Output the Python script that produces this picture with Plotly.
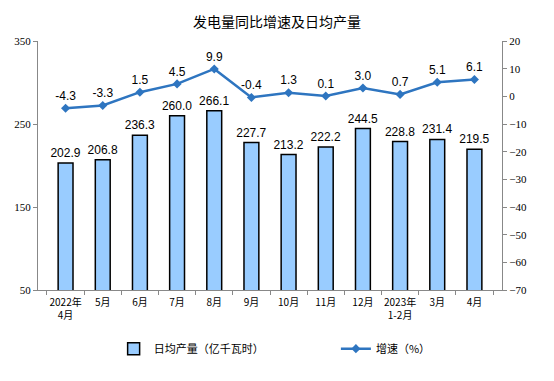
import plotly.graph_objects as go

categories = ["2022年<br>4月", "5月", "6月", "7月", "8月", "9月", "10月", "11月", "12月", "2023年<br>1-2月", "3月", "4月"]
daily_output = [202.9, 206.8, 236.3, 260.0, 266.1, 227.7, 213.2, 222.2, 244.5, 228.8, 231.4, 219.5]
growth = [-4.3, -3.3, 1.5, 4.5, 9.9, -0.4, 1.3, 0.1, 3.0, 0.7, 5.1, 6.1]
left_ticks = [50, 150, 250, 350]

fig = go.Figure()
fig.add_trace(go.Bar(
    x=categories, y=daily_output, name="日均产量（亿千瓦时）", legend="legend",
    marker=dict(color="#99CCFF", line=dict(color="#000000", width=1.5)),
    width=0.4,
    text=[f"{v:.1f}" for v in daily_output], textposition="outside",
    constraintext="none",
    textfont=dict(family="Liberation Sans, Arial", size=12, color="#000"),
    cliponaxis=False,
))
fig.add_trace(go.Scatter(
    x=categories, y=growth, name="增速（%）", yaxis="y2", legend="legend2",
    mode="lines+markers+text",
    line=dict(color="#2E75C0", width=2.5),
    marker=dict(symbol="diamond", size=7, color="#2E75C0"),
    text=[f"{v:.1f}" for v in growth], textposition="top center",
    textfont=dict(family="Liberation Sans, Arial", size=12, color="#000"),
    cliponaxis=False,
))

legend_font = dict(family="Noto Sans CJK SC", size=11, color="#000")
fig.update_layout(
    width=554, height=381,
    margin=dict(l=30, r=60, t=33, b=99, autoexpand=False),
    paper_bgcolor="white", plot_bgcolor="white",
    title=dict(text="发电量同比增速及日均产量", x=(277 - 8) / 554, xanchor="center", y=0.963, yanchor="middle",
               font=dict(family="Noto Sans CJK SC", size=14, color="#000")),
    showlegend=True,
    legend=dict(orientation="h", x=0.163, xanchor="left", yref="container", y=0.144, yanchor="top",
                font=legend_font, itemwidth=30),
    legend2=dict(orientation="h", x=0.642, xanchor="left", yref="container", y=0.144, yanchor="top",
                 font=legend_font, itemwidth=30),
    xaxis=dict(
        showline=True, linecolor="#888", linewidth=1, tickangle=0,
        ticks="outside", ticklen=4, tickcolor="#888", tickson="boundaries",
        ticklabelstandoff=3,
        tickfont=dict(family="Noto Sans CJK SC", size=10, color="#000"),
        showgrid=False,
    ),
    yaxis=dict(
        range=[50, 350], tickvals=left_ticks, showline=True, linecolor="#888", linewidth=1,
        ticks="outside", ticklen=4, tickcolor="#888", showgrid=False, zeroline=False,
        tickfont=dict(family="Liberation Serif", size=11, color="#000"),
    ),
    yaxis2=dict(
        range=[-70, 20], dtick=10, overlaying="y", side="right",
        showline=True, linecolor="#888", linewidth=1,
        ticks="outside", ticklen=4, tickcolor="#888", showgrid=False, zeroline=False,
        tickfont=dict(family="Liberation Serif", size=11, color="#000"),
    ),
)

fig.write_html("out.html")
